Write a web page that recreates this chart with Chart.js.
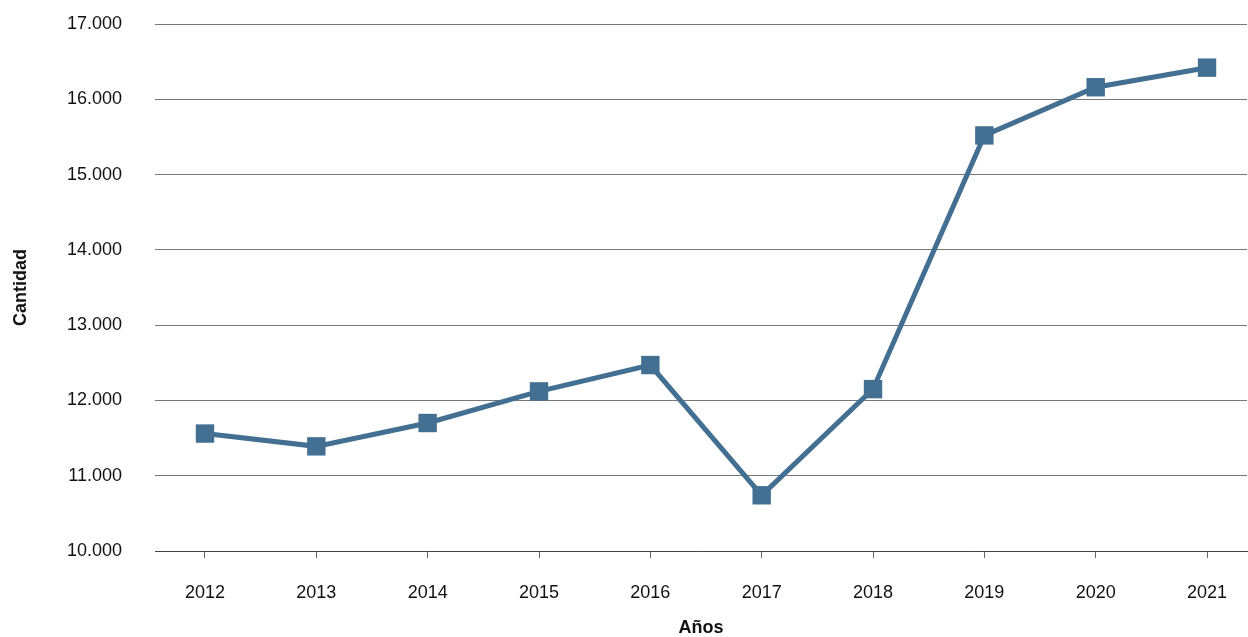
<!DOCTYPE html>
<html>
<head>
<meta charset="utf-8">
<script src="https://cdn.jsdelivr.net/npm/chart.js@4"></script>
<style>
  html, body { margin: 0; padding: 0; background: #fff; overflow: hidden; }
</style>
</head>
<body>
<canvas id="lineChart" width="1248" height="637"></canvas>
<script>
// Datos
const years = [2012, 2013, 2014, 2015, 2016, 2017, 2018, 2019, 2020, 2021];
const cantidad = [11560, 11390, 11700, 12120, 12470, 10740, 12150, 15520, 16160, 16420];
const yMin = 10000;
const yMax = 17000;
const yStep = 1000;

const fmt = v => String(v).replace(/\B(?=(\d{3})+(?!\d))/g, '.');

Chart.defaults.font.family = "'Liberation Sans', Arial, sans-serif";

const ctx = document.getElementById('lineChart').getContext('2d');
const lineChart = new Chart(ctx, {
    type: 'line',
    data: {
        datasets: [{
            data: years.map((y, i) => ({ x: y, y: cantidad[i] })),
            borderColor: '#426f92',
            backgroundColor: '#426f92',
            borderWidth: 5,
            tension: 0,
            pointStyle: 'rect',
            pointRadius: 13,
            pointHoverRadius: 13,
            pointBorderWidth: 0,
            clip: false
        }]
    },
    options: {
        responsive: false,
        animation: false,
        layout: { autoPadding: false, padding: { top: 24, right: 1, left: 0, bottom: 0 } },
        plugins: {
            legend: { display: false },
            tooltip: { enabled: false }
        },
        scales: {
            x: {
                type: 'linear',
                min: 2011.551,
                max: 2021.359,
                afterBuildTicks: s => { s.ticks = years.map(v => ({ value: v })); },
                afterFit: s => { s.height = 86; s.paddingLeft = 0; s.paddingRight = 0; },
                grid: { drawOnChartArea: false, drawTicks: true, tickLength: 7, color: '#666' },
                border: { color: '#444', width: 1 },
                ticks: {
                    padding: 24,
                    color: '#111',
                    font: { size: 18 },
                    maxRotation: 0,
                    autoSkip: false,
                    callback: v => String(v)
                },
                title: {
                    display: true,
                    text: 'Años',
                    color: '#111',
                    font: { size: 18, weight: 'bold', lineHeight: 1 },
                    padding: 0
                }
            },
            y: {
                min: yMin,
                max: yMax,
                afterFit: s => { s.width = 155; s.paddingTop = 0; s.paddingBottom = 0; },
                grid: { color: '#777', drawTicks: false },
                border: { display: false },
                ticks: {
                    stepSize: yStep,
                    padding: 33,
                    color: '#111',
                    font: { size: 18 },
                    callback: v => fmt(v)
                },
                title: {
                    display: true,
                    text: 'Cantidad',
                    color: '#111',
                    font: { size: 18, weight: 'bold' },
                    padding: { top: 10, bottom: 0 }
                }
            }
        }
    }
});
</script>
</body>
</html>
